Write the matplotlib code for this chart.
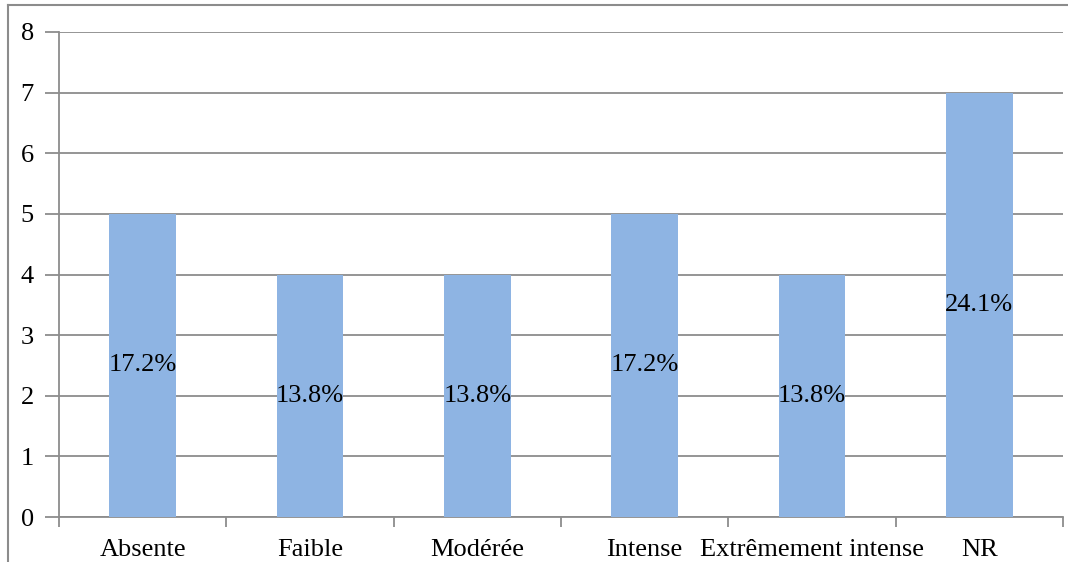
import matplotlib.pyplot as plt
from matplotlib.lines import Line2D
import numpy as np

categories = ["Absente", "Faible", "Modérée", "Intense", "Extrêmement intense", "NR"]
counts = [5, 4, 4, 5, 4, 7]
pct_labels = ["17.2%", "13.8%", "13.8%", "17.2%", "13.8%", "24.1%"]

plt.rcParams['font.family'] = ['Liberation Serif', 'DejaVu Serif']

fig = plt.figure(figsize=(10.68, 5.62), dpi=100)
ax = fig.add_axes([59/1068, 1 - 517/562, (1063 - 59)/1068, (517 - 32)/562])

grid_c = "#8c8c8c"
fs = 19
x = np.arange(len(categories))
bars = ax.bar(x, counts, width=0.4, color="#8EB4E3", zorder=3)

for xi, v, lab in zip(x, counts, pct_labels):
    ax.text(xi, v / 2, lab, ha="center", va="center", fontsize=fs, color="black", zorder=4)

ax.set_xlim(-0.5, len(categories) - 0.5)
ax.set_ylim(0, 8)
ax.set_yticks(range(0, 9))
ax.yaxis.grid(True, color=grid_c, linewidth=1.3, zorder=0)
ax.set_axisbelow(True)

ax.set_xticks(x)
ax.set_xticklabels(categories, fontsize=fs)
ax.tick_params(axis="x", length=0, pad=16)
ax.set_xticks(np.arange(-0.5, len(categories)), minor=True)
ax.tick_params(axis="x", which="minor", length=7, color=grid_c, width=1.3)
ax.tick_params(axis="y", length=10, color=grid_c, width=1.3, labelsize=fs, pad=8)

for s in ["top", "right"]:
    ax.spines[s].set_visible(False)
for s in ["left", "bottom"]:
    ax.spines[s].set_color(grid_c)
    ax.spines[s].set_linewidth(1.3)

# outer chart frame
fig.add_artist(Line2D([8/1068, 8/1068], [0, 1 - 5/562], transform=fig.transFigure, color=grid_c, linewidth=1.5))
fig.add_artist(Line2D([8/1068, 1], [1 - 5/562, 1 - 5/562], transform=fig.transFigure, color=grid_c, linewidth=1.5))

fig.savefig("out.png", dpi=100)
